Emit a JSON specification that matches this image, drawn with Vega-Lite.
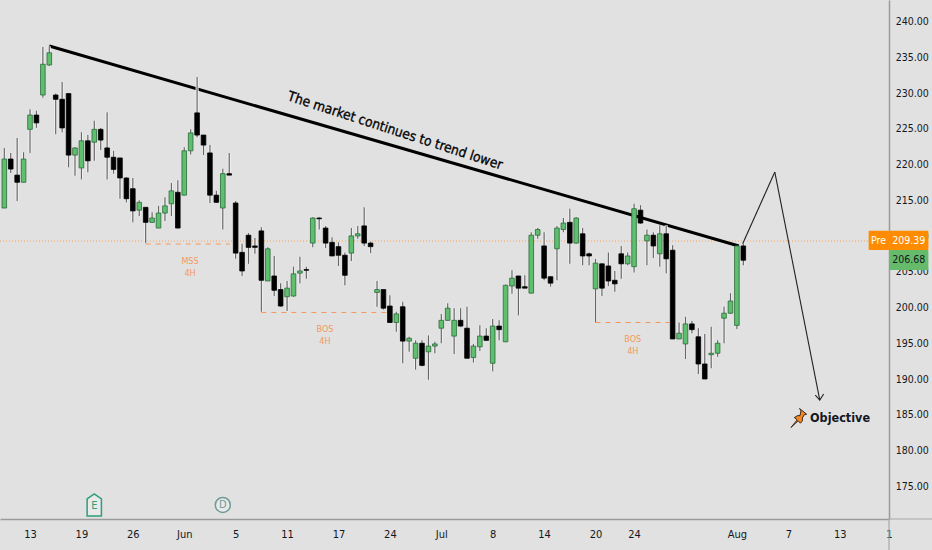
{
  "$schema": "https://vega.github.io/schema/vega-lite/v6.json",
  "width": 889,
  "height": 519,
  "autosize": "none",
  "padding": {"left": 0, "top": 0, "right": 43, "bottom": 31},
  "background": "#e1e1e1",
  "config": {"view": {"stroke": null}},
  "datasets": {
    "candles": [
      {"i":0,"open":214,"high":222.4,"low":214,"close":220.85,"side":"up"},
      {"i":1,"open":220.85,"high":221.7,"low":218.9,"close":219.45,"side":"down"},
      {"i":2,"open":218.6,"high":223.8,"low":215,"close":217.6,"side":"down"},
      {"i":3,"open":217.6,"high":221.8,"low":217.6,"close":220.85,"side":"up"},
      {"i":4,"open":225,"high":227.8,"low":221.7,"close":227,"side":"up"},
      {"i":5,"open":227,"high":227.6,"low":225.2,"close":225.9,"side":"down"},
      {"i":6,"open":229.8,"high":236.5,"low":229.4,"close":234.1,"side":"up"},
      {"i":7,"open":234,"high":236.6,"low":233.85,"close":235.7,"side":"up"},
      {"i":8,"open":229.8,"high":230,"low":224.3,"close":229.2,"side":"down"},
      {"i":9,"open":229.2,"high":231.6,"low":224.6,"close":225.2,"side":"down"},
      {"i":10,"open":230,"high":230,"low":219.7,"close":221.4,"side":"down"},
      {"i":11,"open":221.4,"high":222.5,"low":218.5,"close":222.4,"side":"up"},
      {"i":12,"open":219.6,"high":224.6,"low":218,"close":223.4,"side":"up"},
      {"i":13,"open":223.4,"high":224.2,"low":219,"close":220.6,"side":"down"},
      {"i":14,"open":223.2,"high":226.2,"low":220.6,"close":225,"side":"up"},
      {"i":15,"open":225,"high":225.2,"low":222.1,"close":223.5,"side":"down"},
      {"i":16,"open":222.4,"high":227.4,"low":218,"close":221.1,"side":"down"},
      {"i":17,"open":221.1,"high":222,"low":218.8,"close":219.4,"side":"down"},
      {"i":18,"open":221,"high":221,"low":215.3,"close":218.2,"side":"down"},
      {"i":19,"open":218.2,"high":218.3,"low":214.8,"close":215.3,"side":"down"},
      {"i":20,"open":216.7,"high":218.2,"low":212,"close":213.6,"side":"down"},
      {"i":21,"open":213.7,"high":215.1,"low":212.9,"close":214.8,"side":"up"},
      {"i":22,"open":214.1,"high":214.1,"low":209.1,"close":212,"side":"down"},
      {"i":23,"open":212,"high":213.4,"low":211.9,"close":212.6,"side":"up"},
      {"i":24,"open":211.2,"high":214.3,"low":211.2,"close":213.3,"side":"up"},
      {"i":25,"open":213.3,"high":215.5,"low":212.2,"close":214.3,"side":"up"},
      {"i":26,"open":214.6,"high":217.5,"low":212.9,"close":216.4,"side":"up"},
      {"i":27,"open":216.2,"high":217.9,"low":211.2,"close":211.2,"side":"down"},
      {"i":28,"open":215.8,"high":222.5,"low":215.8,"close":222,"side":"up"},
      {"i":29,"open":222,"high":225,"low":221.5,"close":224.5,"side":"up"},
      {"i":30,"open":227.3,"high":232.3,"low":223.9,"close":224.2,"side":"down"},
      {"i":31,"open":224.2,"high":224.2,"low":221.4,"close":222.8,"side":"down"},
      {"i":32,"open":221.7,"high":222.8,"low":214.7,"close":215.8,"side":"down"},
      {"i":33,"open":215.8,"high":216.4,"low":214.7,"close":214.8,"side":"down"},
      {"i":34,"open":214,"high":219.5,"low":211,"close":218.8,"side":"up"},
      {"i":35,"open":218.8,"high":221.7,"low":218.6,"close":218.6,"side":"down"},
      {"i":36,"open":214.7,"high":215,"low":206.9,"close":207.7,"side":"down"},
      {"i":37,"open":207.8,"high":209,"low":204.5,"close":205.2,"side":"down"},
      {"i":38,"open":210.2,"high":210.5,"low":206.2,"close":208.5,"side":"down"},
      {"i":39,"open":208.7,"high":209.8,"low":207.6,"close":208.5,"side":"down"},
      {"i":40,"open":210.8,"high":211.3,"low":199.5,"close":203.9,"side":"down"},
      {"i":41,"open":203.8,"high":208.5,"low":203.8,"close":208.3,"side":"up"},
      {"i":42,"open":204.5,"high":207.3,"low":201.7,"close":202.5,"side":"down"},
      {"i":43,"open":202.6,"high":203.5,"low":200.2,"close":200.3,"side":"down"},
      {"i":44,"open":201.6,"high":203.8,"low":199.6,"close":202.8,"side":"up"},
      {"i":45,"open":201.7,"high":205.8,"low":201.6,"close":204.8,"side":"up"},
      {"i":46,"open":204.9,"high":207.2,"low":203.5,"close":205.2,"side":"up"},
      {"i":47,"open":205.4,"high":205.8,"low":204.1,"close":205.3,"side":"down"},
      {"i":48,"open":209.1,"high":212.7,"low":208.5,"close":212.6,"side":"up"},
      {"i":49,"open":212.6,"high":212.7,"low":211,"close":212.5,"side":"down"},
      {"i":50,"open":211.2,"high":211.5,"low":208.4,"close":209.1,"side":"down"},
      {"i":51,"open":209.2,"high":209.9,"low":207.3,"close":207.3,"side":"down"},
      {"i":52,"open":208.6,"high":209.2,"low":205.9,"close":207.4,"side":"down"},
      {"i":53,"open":207.4,"high":207.8,"low":203.2,"close":204.6,"side":"down"},
      {"i":54,"open":207.7,"high":211.2,"low":206.6,"close":210.1,"side":"up"},
      {"i":55,"open":210.1,"high":211.5,"low":209.7,"close":210.4,"side":"up"},
      {"i":56,"open":211.5,"high":214.1,"low":208.7,"close":209.1,"side":"down"},
      {"i":57,"open":209.1,"high":209.3,"low":207.7,"close":208.6,"side":"down"},
      {"i":58,"open":202.2,"high":203.8,"low":200.2,"close":202.6,"side":"up"},
      {"i":59,"open":202.6,"high":202.6,"low":199.8,"close":200,"side":"down"},
      {"i":60,"open":200.3,"high":201.8,"low":198,"close":198,"side":"down"},
      {"i":61,"open":198,"high":199.5,"low":196.7,"close":199.2,"side":"up"},
      {"i":62,"open":200.2,"high":200.9,"low":192.3,"close":195.4,"side":"down"},
      {"i":63,"open":195.4,"high":196,"low":193.9,"close":195.8,"side":"up"},
      {"i":64,"open":193,"high":195.5,"low":191.4,"close":195.1,"side":"up"},
      {"i":65,"open":195.1,"high":195.5,"low":191.9,"close":192,"side":"down"},
      {"i":66,"open":193.9,"high":196.2,"low":190,"close":194.7,"side":"up"},
      {"i":67,"open":194.7,"high":195.3,"low":193.7,"close":195,"side":"up"},
      {"i":68,"open":197.2,"high":199.2,"low":195.1,"close":198.3,"side":"up"},
      {"i":69,"open":198.3,"high":200.7,"low":198.2,"close":200,"side":"up"},
      {"i":70,"open":196.1,"high":200,"low":193.6,"close":198.3,"side":"up"},
      {"i":71,"open":198.3,"high":200,"low":197.4,"close":197.5,"side":"down"},
      {"i":72,"open":197.2,"high":200.2,"low":193,"close":193,"side":"down"},
      {"i":73,"open":193.1,"high":195,"low":192.4,"close":194.7,"side":"up"},
      {"i":74,"open":194.6,"high":197.6,"low":194,"close":196.1,"side":"up"},
      {"i":75,"open":196.1,"high":197.2,"low":195.5,"close":195.5,"side":"down"},
      {"i":76,"open":192.3,"high":198.5,"low":191.2,"close":197.5,"side":"up"},
      {"i":77,"open":197.5,"high":198.3,"low":195.5,"close":197,"side":"down"},
      {"i":78,"open":195.3,"high":203.3,"low":195.3,"close":203.2,"side":"up"},
      {"i":79,"open":203.1,"high":205.3,"low":202,"close":204.2,"side":"up"},
      {"i":80,"open":204.5,"high":204.5,"low":199,"close":202.8,"side":"down"},
      {"i":81,"open":203,"high":204.6,"low":202.8,"close":202.8,"side":"down"},
      {"i":82,"open":202.1,"high":210.6,"low":202.1,"close":210.2,"side":"up"},
      {"i":83,"open":210.2,"high":211.2,"low":209.7,"close":211,"side":"up"},
      {"i":84,"open":208.7,"high":210.6,"low":203.9,"close":204.2,"side":"down"},
      {"i":85,"open":204.4,"high":204.4,"low":203,"close":203.5,"side":"down"},
      {"i":86,"open":208.3,"high":211.5,"low":203.9,"close":211.2,"side":"up"},
      {"i":87,"open":211,"high":212.6,"low":210.6,"close":211.9,"side":"up"},
      {"i":88,"open":212,"high":213.9,"low":206.2,"close":209.1,"side":"down"},
      {"i":89,"open":209.1,"high":212.7,"low":209,"close":212.6,"side":"up"},
      {"i":90,"open":210.4,"high":211.2,"low":206,"close":207.3,"side":"down"},
      {"i":91,"open":207.6,"high":207.8,"low":206,"close":207.3,"side":"down"},
      {"i":92,"open":202.7,"high":206.9,"low":198,"close":206.3,"side":"up"},
      {"i":93,"open":206.2,"high":206.2,"low":201.7,"close":202.8,"side":"down"},
      {"i":94,"open":205.9,"high":207.8,"low":203.1,"close":203.8,"side":"down"},
      {"i":95,"open":203.9,"high":205.2,"low":202.3,"close":203.4,"side":"down"},
      {"i":96,"open":207.6,"high":208.7,"low":204.1,"close":206.2,"side":"down"},
      {"i":97,"open":206.2,"high":207.8,"low":206,"close":207.3,"side":"up"},
      {"i":98,"open":205.8,"high":214.6,"low":205,"close":213.9,"side":"up"},
      {"i":99,"open":213.7,"high":214.4,"low":211.8,"close":211.9,"side":"down"},
      {"i":100,"open":209.4,"high":211,"low":206,"close":210.2,"side":"up"},
      {"i":101,"open":210.2,"high":210.6,"low":207,"close":208.7,"side":"down"},
      {"i":102,"open":207.6,"high":211.6,"low":205.8,"close":210.4,"side":"up"},
      {"i":103,"open":210.4,"high":211.6,"low":204.9,"close":206.9,"side":"down"},
      {"i":104,"open":208.1,"high":208.8,"low":195.7,"close":195.7,"side":"down"},
      {"i":105,"open":195.7,"high":198,"low":195.7,"close":196.5,"side":"up"},
      {"i":106,"open":195,"high":198.8,"low":192.9,"close":197.8,"side":"up"},
      {"i":107,"open":197.8,"high":198.2,"low":196.5,"close":197,"side":"down"},
      {"i":108,"open":196,"high":197.2,"low":190.8,"close":192.2,"side":"down"},
      {"i":109,"open":192.2,"high":196.4,"low":190.1,"close":190.1,"side":"down"},
      {"i":110,"open":193.5,"high":197.4,"low":191.6,"close":193.7,"side":"up"},
      {"i":111,"open":193.7,"high":195.5,"low":193.2,"close":195.1,"side":"up"},
      {"i":112,"open":198.6,"high":200.2,"low":195.1,"close":199.3,"side":"up"},
      {"i":113,"open":199.3,"high":202.1,"low":199.2,"close":201,"side":"up"},
      {"i":114,"open":197.6,"high":208.7,"low":197.1,"close":208.7,"side":"up"},
      {"i":115,"open":208.7,"high":209,"low":206,"close":206.7,"side":"down"}
    ],
    "trend": [
      {"i":7,"price":236.65},
      {"i":114.3,"price":208.7}
    ],
    "projection": [
      {"leg":"up","i":114.9,"price":209},
      {"leg":"up","i":119.9,"price":219.03},
      {"leg":"down","i":119.9,"price":219.03},
      {"leg":"down","i":126.9,"price":187.16},
      {"leg":"head","i":126.2,"price":187.86},
      {"leg":"head","i":126.9,"price":187.16},
      {"leg":"head","i":127.5,"price":188}
    ],
    "levels": [
      {"from":22,"to":35.1,"price":208.97},
      {"from":40,"to":59.5,"price":199.4},
      {"from":92,"to":103.6,"price":198}
    ],
    "notes": [
      {"i":28.9,"price":206.6,"text":"MSS"},
      {"i":28.9,"price":204.9,"text":"4H"},
      {"i":49.9,"price":197.1,"text":"BOS"},
      {"i":49.9,"price":195.4,"text":"4H"},
      {"i":97.8,"price":195.7,"text":"BOS"},
      {"i":97.8,"price":194,"text":"4H"}
    ],
    "priceLabels": [
      {"i":141.3,"price":175,"text":"175.00"},
      {"i":141.3,"price":180,"text":"180.00"},
      {"i":141.3,"price":185,"text":"185.00"},
      {"i":141.3,"price":190,"text":"190.00"},
      {"i":141.3,"price":195,"text":"195.00"},
      {"i":141.3,"price":200,"text":"200.00"},
      {"i":141.3,"price":205,"text":"205.00"},
      {"i":141.3,"price":210,"text":"210.00"},
      {"i":141.3,"price":215,"text":"215.00"},
      {"i":141.3,"price":220,"text":"220.00"},
      {"i":141.3,"price":225,"text":"225.00"},
      {"i":141.3,"price":230,"text":"230.00"},
      {"i":141.3,"price":235,"text":"235.00"},
      {"i":141.3,"price":240,"text":"240.00"}
    ]
  },
  "layer": [
    {
      "data": {"values": [{"price": 209.39}]},
      "mark": {"type": "rule", "color": "#f7a35c", "strokeWidth": 1, "strokeDash": [1, 2]},
      "encoding": {
        "y": {
          "field": "price",
          "type": "quantitative",
          "scale": {"domain": [170.53, 243.08], "nice": false, "zero": false},
          "axis": {
            "orient": "right",
            "title": null,
            "labels": false,
            "grid": false,
            "ticks": false,
            "domain": true,
            "domainColor": "#9b9b9b",
            "domainWidth": 1.5
          }
        }
      }
    },
    {
      "data": {"values": [
        {"line": "price axis", "i": 137.67, "price": 170.53},
        {"line": "price axis", "i": 137.67, "price": 166.2},
        {"line": "time axis", "i": 137.67, "price": 170.53},
        {"line": "time axis", "i": 144.4, "price": 170.53}
      ]},
      "mark": {"type": "line", "color": "#a8a8a8", "strokeWidth": 1.2},
      "encoding": {
        "x": {"field": "i", "type": "quantitative"},
        "y": {"field": "price", "type": "quantitative"},
        "detail": {"field": "line"}
      }
    },
    {
      "data": {"name": "trend"},
      "mark": {"type": "line", "color": "#000000", "strokeWidth": 3},
      "encoding": {
        "x": {
          "field": "i",
          "type": "quantitative",
          "scale": {"domain": [-0.67, 137.67], "nice": false, "zero": false, "padding": 0},
          "axis": {
            "orient": "bottom",
            "title": null,
            "values": [4,12,20,28,36,44,52,60,68,76,84,92,98,114,122,130,137.67],
            "labelExpr": "{'4':'13','12':'19','20':'26','28':'Jun','36':'5','44':'11','52':'17','60':'24','68':'Jul','76':'8','84':'14','92':'20','98':'24','114':'Aug','122':'7','130':'13','137.67':'1'}[datum.value]",
            "grid": false,
            "ticks": false,
            "domain": true,
            "domainColor": "#9b9b9b",
            "domainWidth": 1.5,
            "labelPadding": 9,
            "labelFlush": false,
            "labelOverlap": false,
            "labelFont": "DejaVu Sans Condensed, Open Sans, sans-serif",
            "labelFontSize": 11,
            "labelColor": "#131722"
          }
        },
        "y": {"field": "price", "type": "quantitative"}
      }
    },
    {
      "data": {"name": "priceLabels"},
      "mark": {"type": "text", "color": "#131722", "font": "DejaVu Sans Condensed, Open Sans, sans-serif", "fontSize": 10.5, "align": "center", "baseline": "middle"},
      "encoding": {
        "x": {"field": "i", "type": "quantitative"},
        "y": {"field": "price", "type": "quantitative"},
        "text": {"field": "text"}
      }
    },
    {
      "data": {"name": "candles"},
      "mark": {"type": "rule", "color": "#f0f0f0", "strokeWidth": 3},
      "encoding": {
        "x": {"field": "i", "type": "quantitative"},
        "y": {"field": "high", "type": "quantitative"},
        "y2": {"field": "low"}
      }
    },
    {
      "data": {"name": "candles"},
      "mark": {"type": "rule", "color": "#666666", "strokeWidth": 1.2},
      "encoding": {
        "x": {"field": "i", "type": "quantitative"},
        "y": {"field": "high", "type": "quantitative"},
        "y2": {"field": "low"}
      }
    },
    {
      "data": {"name": "candles"},
      "mark": {"type": "bar", "orient": "vertical", "size": 4.6, "strokeWidth": 0.8},
      "encoding": {
        "x": {"field": "i", "type": "quantitative"},
        "y": {"field": "open", "type": "quantitative"},
        "y2": {"field": "close"},
        "color": {
          "field": "side",
          "type": "nominal",
          "scale": {"domain": ["up", "down"], "range": ["#5fbf6f", "#000000"]},
          "legend": null
        },
        "stroke": {
          "field": "side",
          "type": "nominal",
          "scale": {"domain": ["up", "down"], "range": ["#2a6b39", "#000000"]},
          "legend": null
        }
      }
    },
    {
      "data": {"name": "projection"},
      "mark": {"type": "line", "color": "#222222", "strokeWidth": 1.1},
      "encoding": {
        "x": {"field": "i", "type": "quantitative"},
        "y": {"field": "price", "type": "quantitative"},
        "detail": {"field": "leg"}
      }
    },
    {
      "data": {"name": "levels"},
      "mark": {"type": "rule", "color": "#f5975b", "strokeWidth": 1, "strokeDash": [5, 5]},
      "encoding": {
        "x": {"field": "from", "type": "quantitative"},
        "x2": {"field": "to"},
        "y": {"field": "price", "type": "quantitative"}
      }
    },
    {
      "data": {"name": "notes"},
      "mark": {"type": "text", "color": "#f4985f", "font": "DejaVu Sans Condensed, Open Sans, sans-serif", "fontSize": 9, "align": "center", "baseline": "middle"},
      "encoding": {
        "x": {"field": "i", "type": "quantitative"},
        "y": {"field": "price", "type": "quantitative"},
        "text": {"field": "text"}
      }
    },
    {
      "data": {"values": [{"i": 60.8, "price": 224.76, "text": "The market continues to trend lower"}]},
      "mark": {"type": "text", "color": "#000000", "stroke": "#000000", "strokeWidth": 0.3, "font": "DejaVu Sans Condensed, Open Sans, sans-serif", "fontSize": 13.7, "angle": 18, "align": "center", "baseline": "middle"},
      "encoding": {
        "x": {"field": "i", "type": "quantitative"},
        "y": {"field": "price", "type": "quantitative"},
        "text": {"field": "text"}
      }
    },
    {
      "data": {"values": [{"i": 130.05, "price": 184.65, "text": "Objective"}]},
      "mark": {"type": "text", "color": "#131722", "font": "DejaVu Sans Condensed, Open Sans, sans-serif", "fontSize": 12.5, "fontWeight": 700, "align": "center", "baseline": "middle"},
      "encoding": {
        "x": {"field": "i", "type": "quantitative"},
        "y": {"field": "price", "type": "quantitative"},
        "text": {"field": "text"}
      }
    },
    {
      "data": {"values": [{"i": 123.6, "price": 184.65}]},
      "mark": {
        "type": "point",
        "filled": true,
        "size": 360,
        "opacity": 1,
        "fill": "#f5871f",
        "stroke": "#3a2a1a",
        "strokeWidth": 1,
        "shape": "M-0.8 1 L-0.15 0.2 L-0.45 -0.05 L-0.1 -0.25 L0.15 -0.25 L0.25 -0.75 L0.1 -1 L0.85 -0.4 L0.6 -0.35 L0.4 0 L0.4 0.3 L0.2 0.55 L-0.05 0.3 Z"
      },
      "encoding": {
        "x": {"field": "i", "type": "quantitative"},
        "y": {"field": "price", "type": "quantitative"}
      }
    },
    {
      "data": {"values": [{"i": 14, "price": 172.5}]},
      "mark": {
        "type": "point",
        "filled": false,
        "size": 484,
        "opacity": 1,
        "fill": "#e9e9e9",
        "stroke": "#2e9e77",
        "strokeWidth": 1.5,
        "shape": "M-0.65 -0.55 L0 -1 L0.65 -0.55 L0.65 1 L-0.65 1 Z"
      },
      "encoding": {
        "x": {"field": "i", "type": "quantitative"},
        "y": {"field": "price", "type": "quantitative"}
      }
    },
    {
      "data": {"values": [{"i": 34, "price": 172.5}]},
      "mark": {
        "type": "point",
        "shape": "circle",
        "filled": false,
        "size": 225,
        "opacity": 1,
        "fill": "#e9e9e9",
        "stroke": "#6f9d95",
        "strokeWidth": 1.5
      },
      "encoding": {
        "x": {"field": "i", "type": "quantitative"},
        "y": {"field": "price", "type": "quantitative"}
      }
    },
    {
      "data": {"values": [{"i": 14, "price": 172.4, "text": "E", "tone": "e"}, {"i": 34, "price": 172.5, "text": "D", "tone": "d"}]},
      "mark": {"type": "text", "font": "DejaVu Sans Condensed, Open Sans, sans-serif", "fontSize": 11, "align": "center", "baseline": "middle"},
      "encoding": {
        "x": {"field": "i", "type": "quantitative"},
        "y": {"field": "price", "type": "quantitative"},
        "text": {"field": "text"},
        "color": {
          "field": "tone",
          "type": "nominal",
          "scale": {"domain": ["e", "d"], "range": ["#2e9e77", "#6f9d95"]},
          "legend": null
        }
      }
    },
    {
      "data": {"values": [
        {"from": 134.5, "to": 137.67, "top": 210.83, "bottom": 208.13, "box": "orange"},
        {"from": 137.67, "to": 143.8, "top": 210.83, "bottom": 208.13, "box": "orange"},
        {"from": 137.67, "to": 143.8, "top": 208.13, "bottom": 205.33, "box": "green"}
      ]},
      "mark": {"type": "rect", "cornerRadius": 1},
      "encoding": {
        "x": {"field": "from", "type": "quantitative"},
        "x2": {"field": "to"},
        "y": {"field": "top", "type": "quantitative"},
        "y2": {"field": "bottom"},
        "color": {
          "field": "box",
          "type": "nominal",
          "scale": {"domain": ["orange", "green"], "range": ["#ff8c00", "#66bb6a"]},
          "legend": null
        }
      }
    },
    {
      "data": {"values": [
        {"i": 136.05, "price": 209.39, "text": "Pre", "tone": "light"},
        {"i": 140.75, "price": 209.39, "text": "209.39", "tone": "light"},
        {"i": 140.75, "price": 206.72, "text": "206.68", "tone": "dark"}
      ]},
      "mark": {"type": "text", "font": "DejaVu Sans Condensed, Open Sans, sans-serif", "fontSize": 10.5, "align": "center", "baseline": "middle"},
      "encoding": {
        "x": {"field": "i", "type": "quantitative"},
        "y": {"field": "price", "type": "quantitative"},
        "text": {"field": "text"},
        "color": {
          "field": "tone",
          "type": "nominal",
          "scale": {"domain": ["light", "dark"], "range": ["#ffffff", "#131722"]},
          "legend": null
        }
      }
    }
  ],
  "resolve": {"scale": {"color": "independent", "stroke": "independent"}}
}
